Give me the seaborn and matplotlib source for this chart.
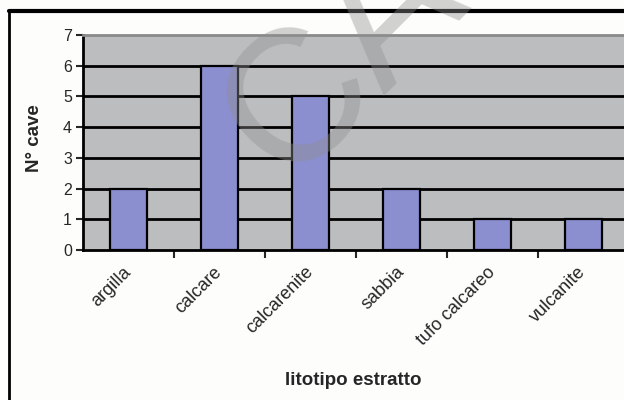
import matplotlib
matplotlib.use('Agg')
import matplotlib.pyplot as plt
import seaborn as sns
import numpy as np
from matplotlib.lines import Line2D

# dati
litotipi = ['argilla', 'calcare', 'calcarenite', 'sabbia', 'tufo calcareo', 'vulcanite']
n_cave = [2, 6, 5, 2, 1, 1]
y_ticks = [0, 1, 2, 3, 4, 5, 6, 7]

sns.set_style('white')
plt.rcParams['font.family'] = ['Liberation Sans', 'DejaVu Sans']

fig = plt.figure(figsize=(6.24, 4.0), dpi=100, facecolor='#fdfdfb')
ax = fig.add_axes([83/624, 1-250/400, 546/624, 215/400])
ax.set_facecolor('#bcbdbf')

sns.barplot(x=litotipi, y=n_cave, color='#8b8ecf', edgecolor='black',
            linewidth=1.6, width=0.4, saturation=1, ax=ax, zorder=3)

ax.set_ylim(0, 7)
ax.set_xlim(-0.5, len(litotipi) - 0.5)
ax.set_yticks(y_ticks)
# griglia nera (la riga in alto resta grigia)
for yv in y_ticks[1:-1]:
    ax.axhline(yv, color='black', linewidth=2, zorder=1)

ax.spines['right'].set_visible(False)
ax.spines['top'].set_color('#8a8a8a')
ax.spines['top'].set_linewidth(2)
ax.spines['left'].set_linewidth(2)
ax.spines['bottom'].set_linewidth(2)
ax.spines['left'].set_color('black')
ax.spines['bottom'].set_color('black')

ax.tick_params(axis='y', which='major', length=5, width=1.5, direction='out',
               labelsize=11.5, pad=3, left=True)
# etichette al centro delle categorie, tacche ai confini
ax.set_xticks(np.arange(len(litotipi)))
ax.set_xticklabels(litotipi, rotation=45, ha='right', va='center',
                   rotation_mode='anchor', fontsize=13)
ax.tick_params(axis='x', which='major', length=0, pad=14)
ax.set_xticks(np.arange(len(litotipi)) + 0.5, minor=True)
ax.tick_params(axis='x', which='minor', length=6, width=1.5, direction='out', bottom=True)

ax.set_ylabel('N° cave', fontsize=13.5, fontweight='bold')
ax.yaxis.set_label_coords(-40/546, 112/215)
ax.set_xlabel('litotipo estratto', fontsize=13.5, fontweight='bold')
ax.xaxis.set_label_coords(270/546, -122/215)

# bordo dell'area grafico
fig.add_artist(Line2D([9/624, 1.0], [1-11/400, 1-11/400], color='black', linewidth=3))
fig.add_artist(Line2D([9/624, 9/624], [0.0, 1-11/400], color='black', linewidth=2))

# filigrana
fig.text(286/624, 1-185/400, 'CA', fontsize=135, color='#909090', alpha=0.4, rotation=45,
         ha='left', va='baseline', rotation_mode='anchor', zorder=10)

plt.savefig('out.png', dpi=100, facecolor=fig.get_facecolor())
